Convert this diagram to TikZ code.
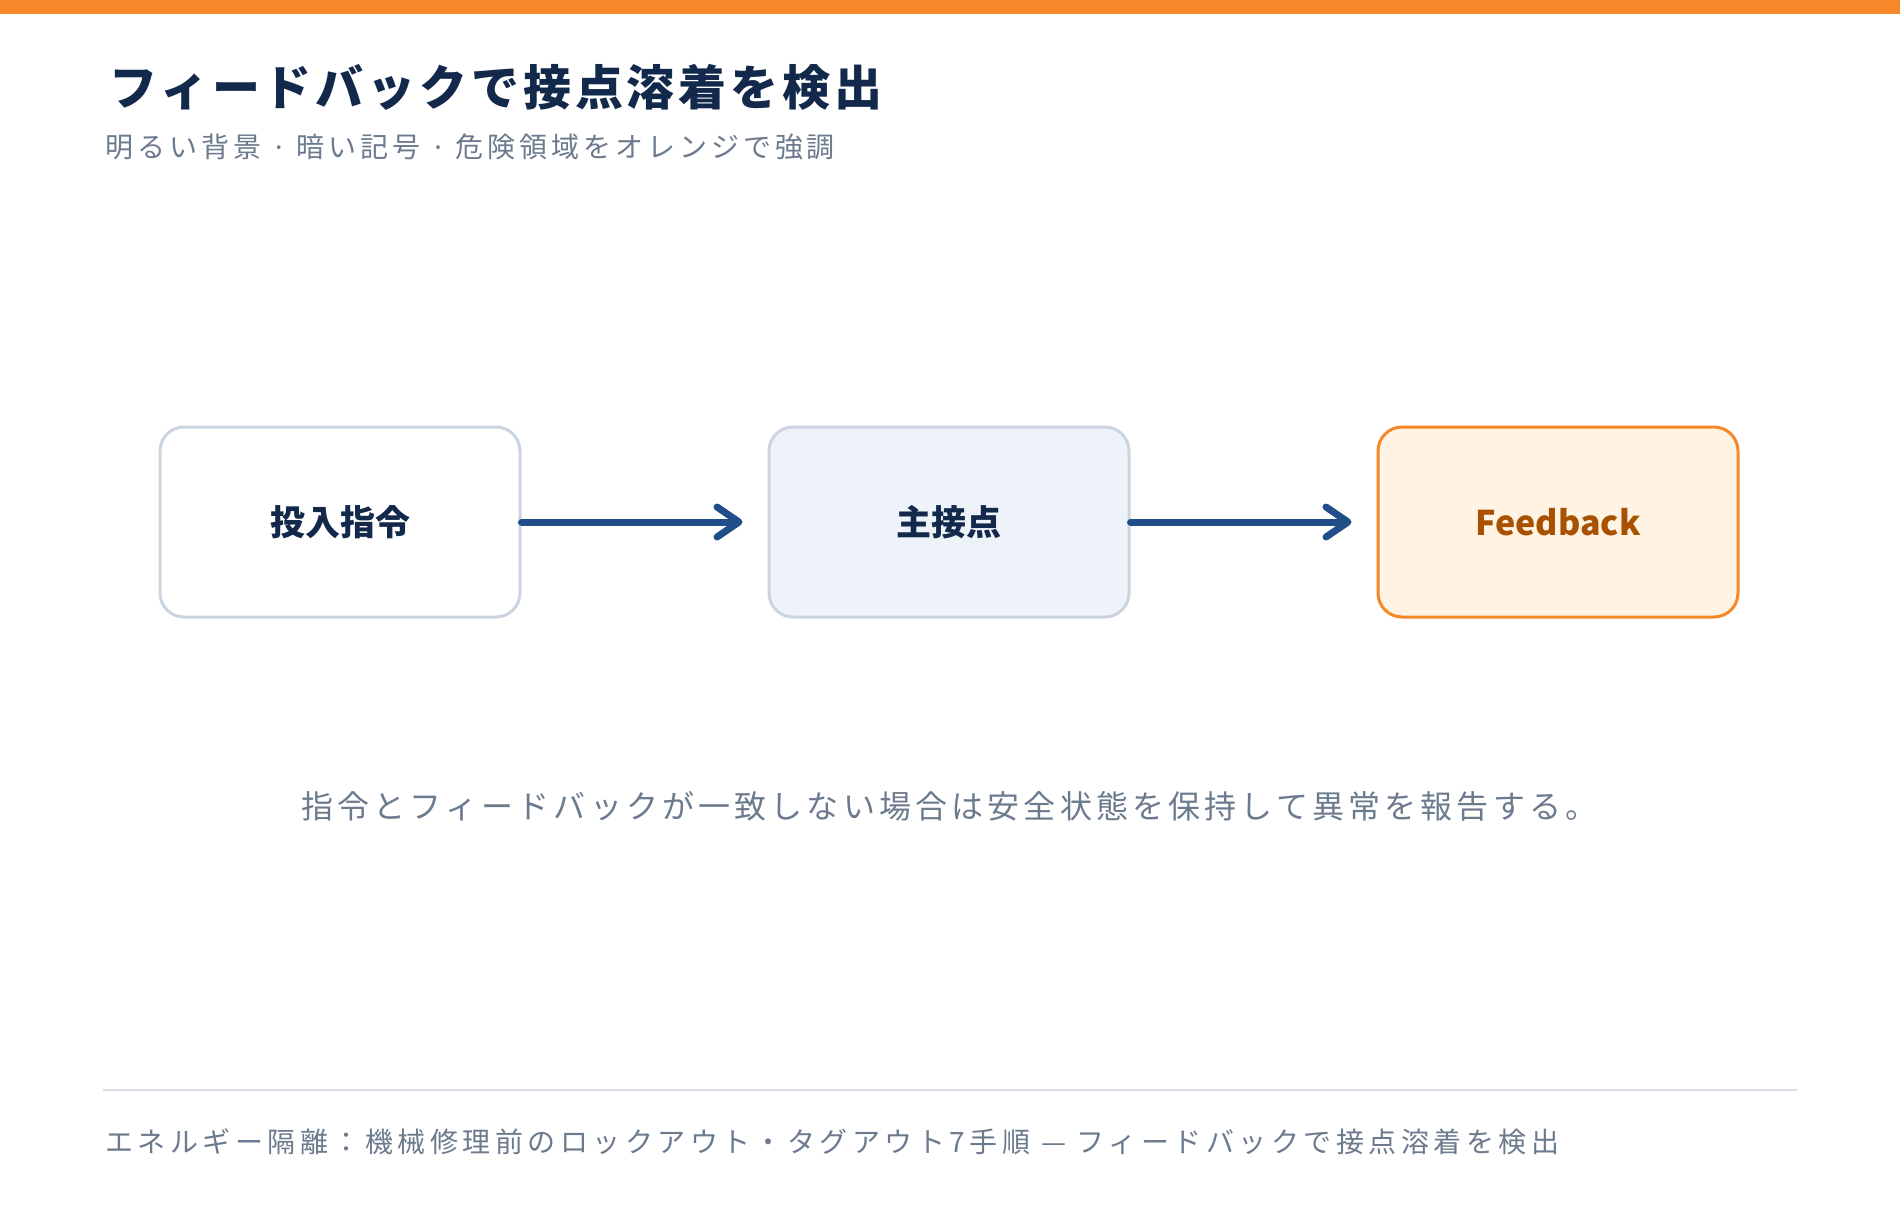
\documentclass[tikz,border=0pt]{standalone}
\usepackage{fontspec}
\setmainfont{Noto Sans CJK JP}
\newfontfamily\latinfont{Noto Sans}
\usetikzlibrary{arrows.meta}

\definecolor{accent}{HTML}{F5892A}
\definecolor{navy}{HTML}{13294B}
\definecolor{slate}{HTML}{6B7A8C}
\definecolor{boxline}{HTML}{CBD5E1}
\definecolor{mainfill}{HTML}{EEF3FA}
\definecolor{warnfill}{HTML}{FFF3E4}
\definecolor{warntext}{HTML}{A85100}
\definecolor{flowblue}{HTML}{1F4E89}
\definecolor{rulegray}{HTML}{D5DCE4}

\newcommand{\middot}{{\latinfont\hspace{7pt}·\hspace{7pt}}}

\begin{document}
\begin{tikzpicture}[x=0.5pt,y=-0.5pt]

    \tikzset{
      box/.style={
        draw=boxline,
        line width=1.5pt,
        rounded corners=12pt,
        minimum width=180pt,
        minimum height=95pt,
        text=navy,
        font=\fontsize{17.5}{20}\selectfont\bfseries,
      },
      flow/.style={
        draw=flowblue,
        line width=3.5pt,
        line cap=round,
        -{Straight Barb[length=11pt,width=15pt,round]},
        shorten >=12.5pt,
      },
      label/.style={
        anchor=west,
        inner sep=0pt,
        text=slate,
      },
    }
    \useasboundingbox (0,0) rectangle (1900,1216);
    \fill[accent] (0,0) rectangle (1900,14);
	% heading
	\node[label, text=navy, font=\fontsize{24}{28}\selectfont\bfseries\addfontfeatures{LetterSpace=8}] (title) at (109,87) {フィードバックで接点溶着を検出};
	\node[label, font=\fontsize{14}{17}\selectfont\addfontfeatures{LetterSpace=14}] (subtitle) at (105,147) {明るい背景\middot 暗い記号\middot 危険領域をオレンジで強調};
	% flow
	\node[box, fill=white] (cmd) at (340,522) {投入指令};
	\node[box, fill=mainfill] (contact) at (949,522) {主接点};
	\node[box, fill=warnfill, draw=accent, text=warntext, font=\fontsize{17}{20}\selectfont\bfseries] (fb) at (1558,522) {Feedback};
	\draw[flow] (cmd.east) -- (contact.west);
	\draw[flow] (contact.east) -- (fb.west);
	% note
	\node[label, font=\fontsize{16}{19}\selectfont\addfontfeatures{LetterSpace=13}] (note) at (301,806) {指令とフィードバックが一致しない場合は安全状態を保持して異常を報告する。};
	% footer
	\draw[rulegray, line width=1pt] (103,1090) -- (1797,1090);
	\node[label, font=\fontsize{14}{17}\selectfont\addfontfeatures{LetterSpace=16}] (footer) at (105,1142) {エネルギー隔離：機械修理前のロックアウト・タグアウト7手順 — フィードバックで接点溶着を検出};

\end{tikzpicture}
\end{document}
